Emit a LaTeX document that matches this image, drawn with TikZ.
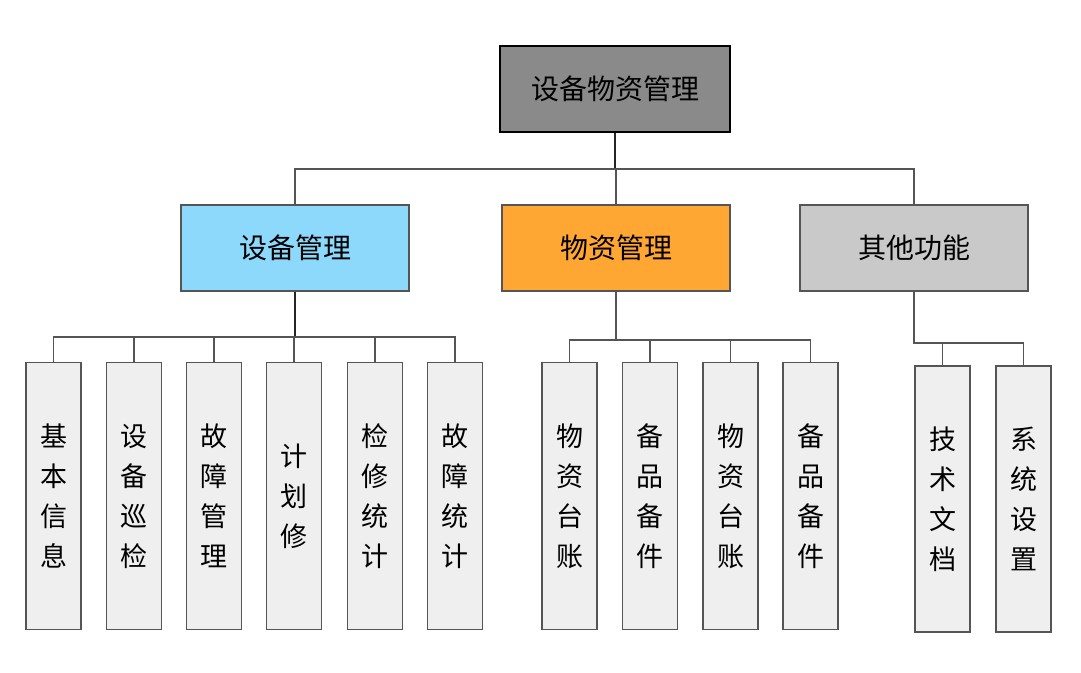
\documentclass[tikz,border=0pt]{standalone}
\usepackage{fontspec}
\newfontfamily\cjk{Noto Sans CJK SC}
\definecolor{topgray}{HTML}{8A8A8A}
\definecolor{lblue}{HTML}{8DD9FB}
\definecolor{lorange}{HTML}{FFA633}
\definecolor{lgray}{HTML}{C9C9C9}
\definecolor{leaffill}{HTML}{EFEFEF}
\definecolor{linegray}{HTML}{555555}
\begin{document}
\begin{tikzpicture}[x=1pt,y=-1pt,
  topbox/.style={draw=black,line width=2.2pt,fill=topgray,minimum width=230pt,minimum height=86pt,inner sep=0pt,font=\cjk\fontsize{28}{30}\selectfont},
  midbox/.style={draw=linegray,line width=1.4pt,minimum width=228pt,minimum height=86pt,inner sep=0pt,font=\cjk\fontsize{28}{30}\selectfont},
  leaf/.style={draw=linegray,line width=1.4pt,fill=leaffill,minimum width=55pt,minimum height=267pt,inner sep=0pt,align=center,font=\cjk\fontsize{27}{40}\selectfont},
  conn/.style={draw=linegray,line width=1.4pt},
  darkconn/.style={draw=black!85,line width=1.8pt}]
\useasboundingbox (0,0) rectangle (1081,672);
\node[topbox] (top) at (615,89) {设备物资管理};
\node[midbox,fill=lblue] (m1) at (295,248) {设备管理};
\node[midbox,fill=lorange] (m2) at (616,248) {物资管理};
\node[midbox,fill=lgray] (m3) at (914,248) {其他功能};

\node[leaf] (a1) at (53.5,496) {基\\本\\信\\息};
\node[leaf] (a2) at (134,496) {设\\备\\巡\\检};
\node[leaf] (a3) at (214,496) {故\\障\\管\\理};
\node[leaf] (a4) at (294,496) {计\\划\\修};
\node[leaf] (a5) at (375,496) {检\\修\\统\\计};
\node[leaf] (a6) at (455,496) {故\\障\\统\\计};

\node[leaf] (b1) at (569.5,496) {物\\资\\台\\账};
\node[leaf] (b2) at (650,496) {备\\品\\备\\件};
\node[leaf] (b3) at (730.5,496) {物\\资\\台\\账};
\node[leaf] (b4) at (810.5,496) {备\\品\\备\\件};

\node[leaf,minimum height=266pt] (c1) at (942.5,499) {技\\术\\文\\档};
\node[leaf,minimum height=266pt] (c2) at (1023.5,499) {系\\统\\设\\置};

\coordinate (bus0) at (0,169);
\coordinate (busA) at (0,337);
\coordinate (busB) at (0,340);
\coordinate (busC) at (0,343);

% top level
\draw[darkconn] (top.south) -- (top.south |- bus0);
\draw[conn] (m1.north) -- (m1.north |- bus0) -| (m3.north);
\draw[conn] (m2.north) -- (m2.north |- bus0);

% group A
\draw[darkconn] (m1.south) -- (m1.south |- busA);
\draw[conn] (a1.north) -- (a1.north |- busA) -| (a6.north);
\foreach \n in {a2,a3,a4,a5} \draw[conn] (\n.north) -- (\n.north |- busA);

% group B
\draw[conn] (m2.south) -- (m2.south |- busB);
\draw[conn] (b1.north) -- (b1.north |- busB) -| (b4.north);
\foreach \n in {b2,b3} \draw[conn] (\n.north) -- (\n.north |- busB);

% group C
\draw[conn] (m3.south) |- (c1.north |- busC) -| (c2.north);
\draw[conn] (c1.north) -- (c1.north |- busC);
\end{tikzpicture}
\end{document}
